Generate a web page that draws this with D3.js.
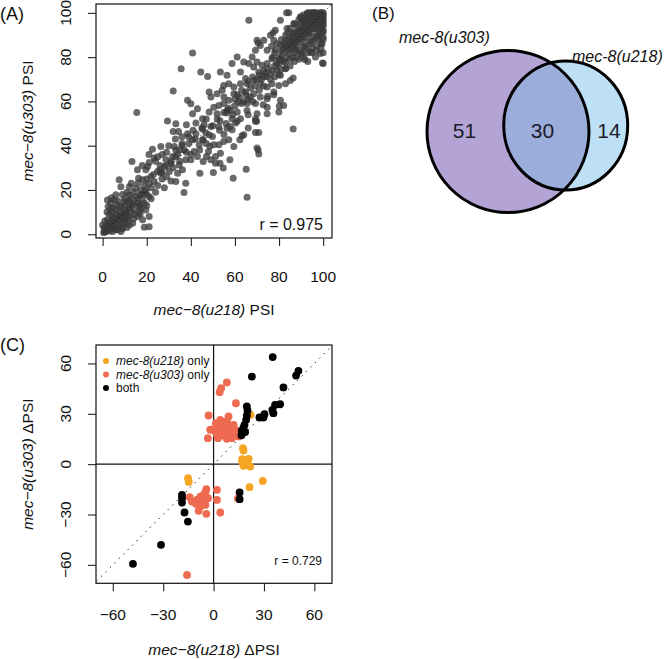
<!DOCTYPE html>
<html><head><meta charset="utf-8">
<script src="https://cdn.jsdelivr.net/npm/d3@7"></script>
<style>
body{margin:0;background:#fff}
svg{display:block}
text{font-family:"Liberation Sans",Arial,Helvetica,sans-serif;fill:#111}
</style>
</head><body>
<svg id="chart" width="665" height="659"></svg>
<script>
// ---------- DATA ----------
// Panel A: PSI of mec-8(u218) (x) vs mec-8(u303) (y)
const psiPairs = [
[0.7,2.7],[1.5,1.2],[4.5,1.2],[8.3,1.2],[0,4.2],[3,3.4],[6,3.4],[9,3.4],[12.1,4.2],[13.6,5],[2.2,6.5],[5.3,5.7],[8.3,6.5],[11.3,7.2],[4.5,8],[7.5,8.7],[10.6,9.5],[3.8,11.7],[6,11],[9,11.7],[6.8,13.2],[2.2,15.5],[5.3,15.5],[3.8,14],[9.8,14.7],[6,17.8],[12.1,11.7],[14.3,11],[15.8,8],[18.1,6.5],[21.1,8],[21.1,3.4],[18.9,3.1],[16.6,12.5],[16.6,10.2],[19.6,11],[13.6,13.2],[11.3,14.7],[12.1,17.8],[15.1,17],[18.1,15.5],[21.1,17],[15.1,20.8],[17.3,20],[19.6,20],[12.1,21.5],[8.3,21.5],[7.5,24.6],
[1,1],[2,2.2],[3,1.5],[2,4],[4,3],[5,2.5],[6,5],[7,4],[5,7],[7,6.5],[8,8],[9,7],[10,6],[10,10],[11,9],[12,8],[13,10],[8,10],[6,9],[4,6],[3,9],[9,5],[11,3],[12,12],[14,14],[13,16],[16,14],[10,13],[7,15],[1,3],[2,10],[3,5],[1,6],[6,2],[9,2.5],[11,5.5],[14,7],[17,9],[16,16],[17,13],[19,14],[20,18],[22,16],[18,18],[14,19],[10,16],[11,19],[13,23],[16,23],[9,18],[5,12],[0.5,0.8],[3,2.5],[7,2],[5,4],[4,10],[12,15],[8,12.5],[6.5,7.5],[9.5,8.5],[2.5,12.5],[4,16.5],[14.5,9],[17.5,11.5],[20,13],
[26.4,39.6],[22.6,38.4],[23.4,34.4],[21.1,32.4],[20.4,30.6],[32.5,39.6],[31.7,35.1],[28.7,33.6],[28,30.6],[26.4,27.6],[31,32.1],[30.2,28.3],[34,27.6],[36.2,29.1],[34.7,31.3],[37.7,33.6],[37.7,23],[36.9,18.9],[33.2,23.8],[24.9,28.3],[23.4,23.8],[21.9,26.1],[19.6,29.1],[18.1,24.6],[15.8,29.1],[16.3,25.3],[13.3,32.8],
[25,22],[27,25],[29,26],[24,19],[22,21],[26,31],[29,37],[33,35],[35,38],[30,40],[27,36],[24,33],[19,22],[20,25],[28,21],[31,24],[32,30],[35,33],[38,37],[36,41],[33,43],[25,35],[21,36],[18,31],[27,28],
[29.4,51.2],[33.2,49.9],[38,49.4],[34.4,46.4],[32,46.4],[38.5,45.4],[42.3,45.4],[45.3,47.5],[45.3,42.7],[48.3,44.9],[48,37.4],[49.1,33.6],[43.8,40.4],[40.8,42.7],[37,38.1],[33.2,38.1],[41.5,37.4],[43,35.1],[45.6,32.8],[40,33.6],[42.3,50.2],[46.8,45.7],[49.1,48.7],[46,49.4],[44.1,27.6],[47.1,35.1],[49.8,44.2],[48.6,39.7],[45.6,42.7],[39,41],[36,44],[41,47],[44,38],[47,41],[40,36],
[40.8,81.9],[35.6,74.8],[44.5,73.3],[47.6,71.3],[32,64.7],[48.3,64.2],[49.1,62],[38.5,60.5],[40,58.9],[43,56.7],[15.5,55],[40.8,54.4],[48.3,55.2],[45.3,52.2],
[69.3,51],[69.3,46],[70.8,46],[63.2,44.5],[64,44.9],[59.5,39.6],[57.2,42.7],[54.9,41.9],[52.7,40.4],[53.4,36.6],[51.2,35.1],[51.2,32.1],[50.4,40.4],[56.4,47.9],[58.7,47.2],[61,51],[52.7,48.7],[70,38.9],[70.5,38.1],[70.8,36.2],[65.1,29.4],[59.2,25.3],[65.5,16.7],[86.4,47.5],[62.2,42.7],[57.7,33.6],[50.2,27.9],[54.7,29.9],[57.7,48.7],[53.2,32.1],[60.3,50.2],[55,45],[66,48],
[66.3,96.7],[84.4,100],[80.6,96.7],[78.3,92.1],[83.6,92.9],[86.7,95.2],[89.7,98.2],[92.7,99.7],[95.7,100],[98.7,100],[100,98.2],[97.2,97.4],[94.2,95.9],[91.2,93.6],[88.2,91.4],[85.9,89.1],[82.9,87.6],[80.6,85.3],[83.6,84.6],[87.4,86.1],[90.4,88.4],[93.4,90.6],[96.5,92.9],[98.7,94.4],[100,91.4],[97.2,89.1],[95,86.9],[99.5,86.1],[98.7,81.6],[94.2,82.3],[96.5,80.1],[100,77.1],[91.9,84.6],[90.4,81.6],[87.4,83.1],[84.4,81.6],[81.4,81.6],[78.3,83.1],[74.6,83.1],[71.5,85.3],[70,87.6],[73.1,87.6],[77.6,87.6],[76.1,89.9],[79.9,78.6],[82.9,77.8],[76.8,79.3],[74.6,77.1],[72.3,76.3],[70,77.8],[68.5,75.5],[73.1,74],[70.8,73.3],[76.1,72.5],[79.1,74],[82.9,74.8],[80.6,71.8],[85.1,69.5],[82.9,68],[79.9,67.2],[76.8,68],[77.6,64.2],[74.6,66.5],[71.5,68],[68.5,69.5],[65.5,68],[64.8,70.3],[62.5,73.3],[66.3,77.1],[64,77.8],[67.8,80.1],[69.3,83.1],[61,80.1],[58.7,77.1],[62.5,68],[59.5,66.5],[57.2,68],[54.9,67.2],[53.4,73.3],[56.4,71.8],[54.2,65],[51.9,63.5],[59.5,63.5],[64.8,64.2],[68.5,63.5],[71.5,62],[74.6,61.2],[80.6,60.5],[82.1,58.2],[74.6,57.4],[69.3,59],[65.5,59],[61.7,59.7],[57.2,60.5],[54.9,59],[52.7,58.2],[56.4,55.9],[61,55.2],[65.5,55.9],[70,54.4],[74.6,54.4],[79.9,55.2],[51.9,54.4],[58.7,52.2],[62.5,52.2],[69.3,52.2],[50.4,57.4],
[99.7,77.4],[91.7,78.9],[86.4,70.6],[80.7,74.4],[74.3,71.3],[72.8,58.5],[74.8,62.3],[77.6,63],[80.1,57.8],[69.8,51],[66,54],[56.2,54.8],[53.2,51.3],[70.5,86.4],[76.6,84.9],[77.3,91],[83.4,100],
[88,90],[90,92],[92,94],[93,96],[94,97],[95,98],[96,99],[97,100],[98,99],[99,100],[100,100],[99,98],[97,97],[96,96],[95,95],[94,93],[93,92],[91,90],[89,88],[87,87],[86,86],[85,84],[88,85],[90,87],[92,89],[94,91],[96,93],[98,95],[100,97],[100,95],[99,93],[97,91],[95,89],[93,87],[91,85],[89,83],[87,82],[86,80],[84,83],[84,88],[86,91],[88,94],[90,96],[92,98],[94,100],[91,99],[89,97],[87,95],[85,93],[83,90],[82,86],[81,83],[80,80],[83,80],[98,88],[99,84],[100,82],[97,85],[95,84],[93,82],[100,89],[100,92],[99,96],[98,98],[100,99],[97,99],[95,100],[93,100],[96,97],[94,95],[92,96],[90,94],[91,96],[89,92],[87,91],[86,89],[84,86],[82,84],[81,88],[79,86],[78,82],[77,80],[80,77],[82,78],[85,79],[88,80],[90,82],[92,84],[94,86],[96,88],[98,90],[99,91],[100,94],[98,93],[99,97],[97,96],[96,98],[95,97],[94,98],[93,98],[91,97],[90,98],[100,96],[99,99],[98,97],[97,98],[96,100],[99,95],[98,96],[97,94],[96,95],[95,93],[94,94],[93,94],[92,92],[91,92],[90,90],[89,90],[88,88],[87,89],[86,84],[85,87],[84,91],[83,85],[81,79],[79,77],[78,76],[77,74],[75,75],[74,73],[73,71],[72,70],[71,72],[70,70],[69,67],[68,71],[67,66],[66,69],[65,63],[63,65],[62,62],[60,61],[64,60],[67,62],[71,65],[73,67],[76,70],[78,71],[80,72],[83,75],[85,76],[87,78],[89,79],[91,80],[93,78],[95,82],[97,83],[99,86],[100,88],
[55,62],[57,57],[60,58],[52,52],[55,55],[58,56],[61,63],[63,59],[66,61],[68,60],[56,50],[59,54],[50,49],[53,47],[47,52],[45,48],[42,43],[39,44],[36,40],[34,36],[31,33],[29,31],[26,29],[23,27],[21,23],[19,19],[17,18]
];
const psiTicks = [0, 20, 40, 60, 80, 100];
const rPanelA = "0.975";

// Panel B: Venn counts
const vennSets = ["mec-8(u303)", "mec-8(u218)"];
const vennCounts = [51, 30, 14]; // u303 only, both, u218 only

// Panel C: delta PSI, [u218, u303]
const bothPairs = [
[35.2,63.8],[22.8,52.2],[50.5,55.6],[49.1,52.8],[41.6,45.7],[39.6,35.7],[36.6,35.3],[35.0,32.4],[35.6,30.4],[30.3,29.8],[29.7,27.8],[27.3,27.8],[19.8,34.4],[20.2,32.0],[19.8,29.0],[19.4,26.4],[18.4,23.4],[17.8,21.8],[16.8,19.9],[16.6,17.2],[18.8,19.1],
[-18.8,-18.3],[-18.8,-20.3],[-18.8,-22.9],[-17.3,-28.8],[-15.3,-34.2],[-31.3,-48.1],[-48.0,-59.4],[15.5,-16.9],[15.5,-20.9]
];
const u218OnlyPairs = [
[-15.2,-8.4],[-14.8,-10.6],[17.5,9.5],[17.8,8.1],[17.0,3.0],[20.9,3.2],[17.8,-1.0],[21.8,-1.4],[19.8,0.6],[21.4,-13.7],[29.3,-10.0],[22.0,29.4],[17.0,1.5],[20.5,-0.5]
];
const u303OnlyPairs = [
[7.9,48.7],[4.5,45.3],[3.6,42.9],[13.3,36.3],[-3.0,29.0],[2.6,23.4],[-2.0,20.5],[-3.4,15.5],[1.0,19.5],[4.0,20.5],[5.9,25.0],[8.9,28.4],[8.9,23.4],[10.9,21.5],[6.9,19.1],[9.9,18.5],[12.5,17.5],[14.4,19.1],[4.9,17.1],[2.6,15.5],[10.9,15.5],[7.9,15.1],[2.0,17.5],[6.5,22.4],[12.9,20.5],[4.0,26.4],[1.4,24.4],[7.9,25.4],[14.8,16.5],[11.9,23.4],[0.5,21.0],
[-15.8,-66.0],[-4.3,-14.9],[-4.9,-16.9],[-5.9,-18.3],[-7.9,-19.3],[-9.9,-21.3],[-12.9,-22.3],[-14.2,-19.7],[-10.3,-23.7],[-7.9,-25.3],[-5.9,-22.3],[-4.9,-24.3],[-8.9,-27.8],[-4.3,-29.6],[2.0,-15.3],[2.0,-21.3],[4.0,-28.8],[-3.3,-20.3],[-6.9,-20.9],[14.5,-20.5]
];
const deltaTicks = [-60, -30, 0, 30, 60];
const rPanelC = "0.729";
const legendLabels = [["mec-8(u218)", " only", "#f4a523"], ["mec-8(u303)", " only", "#ee6a50"], ["", "both", "#000000"]];

// ---------- DRAW ----------
const svg = d3.select("#chart");
const fmt = v => (v < 0 ? "\u2212" + Math.abs(v) : String(v));

function title(g, x, y, rot, italicPart, rest, size) {
  const t = g.append("text")
    .attr("transform", `translate(${x},${y})` + (rot ? " rotate(-90)" : ""))
    .attr("text-anchor", "middle").attr("dy", "0.35em").style("font-size", size + "px");
  t.append("tspan").style("font-style", "italic").text(italicPart);
  t.append("tspan").text(rest);
}

function panel(opts) {
  const g = svg.append("g");
  const {box, x, y, ticks, xLab, yLab, tickFont, xLabY, yLabX} = opts;
  const id = opts.id;
  g.append("clipPath").attr("id", id).append("rect")
    .attr("x", box.l).attr("y", box.t).attr("width", box.r - box.l).attr("height", box.b - box.t);
  const inner = g.append("g").attr("clip-path", `url(#${id})`);
  g.append("g").attr("transform", `translate(0,${box.b})`)
    .call(d3.axisBottom(x).tickValues(ticks).tickSize(8).tickSizeOuter(0).tickFormat(""))
    .call(a => a.select(".domain").remove())
    .selectAll("line").attr("stroke", "#222").attr("stroke-width", 1.1);
  g.append("g").attr("transform", `translate(${box.l},0)`)
    .call(d3.axisLeft(y).tickValues(ticks).tickSize(8).tickSizeOuter(0).tickFormat(""))
    .call(a => a.select(".domain").remove())
    .selectAll("line").attr("stroke", "#222").attr("stroke-width", 1.1);
  g.selectAll(null).data(ticks).join("text")
    .attr("x", d => x(d)).attr("y", xLabY).attr("dy", "0.35em")
    .attr("text-anchor", "middle").style("font-size", tickFont + "px").text(fmt);
  g.selectAll(null).data(ticks).join("text")
    .attr("transform", d => `translate(${yLabX},${y(d)}) rotate(-90)`).attr("dy", "0.35em")
    .attr("text-anchor", "middle").style("font-size", tickFont + "px").text(fmt);
  title(g, (box.l + box.r) / 2, opts.xTitleY, false, xLab[0], xLab[1], opts.titleFont);
  title(g, opts.yTitleX, (box.t + box.b) / 2, true, yLab[0], yLab[1], opts.titleFont);
  return {g, inner};
}

// Panel A
const boxA = {l: 96, r: 332, t: 4, b: 238};
const xA = d3.scaleLinear().domain([-3, 104]).range([boxA.l, boxA.r]);
const yA = d3.scaleLinear().domain([-1.7, 104]).range([boxA.b, boxA.t]);
const pA = panel({id: "clipA", box: boxA, x: xA, y: yA, ticks: psiTicks,
  xLab: ["mec\u22128(u218)", " PSI"], yLab: ["mec\u22128(u303)", " PSI"],
  tickFont: 15.5, xLabY: 277, yLabX: 66, xTitleY: 310, yTitleX: 28, titleFont: 15.5});
pA.inner.selectAll("circle").data(psiPairs).join("circle")
  .attr("cx", d => xA(d[0])).attr("cy", d => yA(d[1])).attr("r", 3.5)
  .attr("fill", "#3a3a3a").attr("fill-opacity", 0.76);
pA.inner.append("line").attr("x1", xA(-3)).attr("y1", yA(-3)).attr("x2", xA(104)).attr("y2", yA(104))
  .attr("stroke", "#000").attr("stroke-width", 1).attr("stroke-dasharray", "1,3");
pA.g.append("rect").attr("x", boxA.l).attr("y", boxA.t).attr("width", boxA.r - boxA.l).attr("height", boxA.b - boxA.t)
  .attr("fill", "none").attr("stroke", "#111").attr("stroke-width", 1.2);
pA.g.append("text").attr("x", 323).attr("y", 230).attr("text-anchor", "end").style("font-size", "16px").text("r = " + rPanelA);
svg.append("text").attr("x", 0).attr("y", 20).style("font-size", "18px").text("(A)");

// Panel C
const boxC = {l: 96, r: 332, t: 345, b: 583.3};
const xC = d3.scaleLinear().domain([-70, 70.5]).range([boxC.l, boxC.r]);
const yC = d3.scaleLinear().domain([-71, 71]).range([boxC.b, boxC.t]);
const pC = panel({id: "clipC", box: boxC, x: xC, y: yC, ticks: deltaTicks,
  xLab: ["mec\u22128(u218)", " \u0394PSI"], yLab: ["mec\u22128(u303)", " \u0394PSI"],
  tickFont: 15.5, xLabY: 615, yLabX: 66, xTitleY: 650, yTitleX: 28, titleFont: 15.5});
pC.inner.append("line").attr("x1", xC(-75)).attr("y1", yC(-75)).attr("x2", xC(75)).attr("y2", yC(75))
  .attr("stroke", "#000").attr("stroke-width", 1).attr("stroke-dasharray", "1.3,5");
pC.inner.append("line").attr("x1", xC(0)).attr("x2", xC(0)).attr("y1", boxC.t).attr("y2", boxC.b).attr("stroke", "#111").attr("stroke-width", 1.2);
pC.inner.append("line").attr("y1", yC(0)).attr("y2", yC(0)).attr("x1", boxC.l).attr("x2", boxC.r).attr("stroke", "#111").attr("stroke-width", 1.2);
[[u303OnlyPairs, "#ee6a50"], [u218OnlyPairs, "#f4a523"], [bothPairs, "#000000"]].forEach(([arr, col]) => {
  pC.inner.append("g").selectAll("circle").data(arr).join("circle")
    .attr("cx", d => xC(d[0])).attr("cy", d => yC(d[1])).attr("r", 3.9).attr("fill", col);
});
pC.g.append("rect").attr("x", boxC.l).attr("y", boxC.t).attr("width", boxC.r - boxC.l).attr("height", boxC.b - boxC.t)
  .attr("fill", "none").attr("stroke", "#111").attr("stroke-width", 1.2);
const leg = pC.g.append("g");
legendLabels.forEach((L, i) => {
  const yy = 361 + i * 13.5;
  leg.append("circle").attr("cx", 106).attr("cy", yy).attr("r", 3).attr("fill", L[2]);
  const t = leg.append("text").attr("x", 116).attr("y", yy).attr("dy", "0.35em").style("font-size", "12px");
  if (L[0]) t.append("tspan").style("font-style", "italic").text(L[0]);
  t.append("tspan").text(L[1]);
});
pC.g.append("text").attr("x", 322).attr("y", 565).attr("text-anchor", "end").style("font-size", "12px").text("r = " + rPanelC);
svg.append("text").attr("x", 0).attr("y", 351).style("font-size", "18px").text("(C)");

// Panel B: Venn
const gB = svg.append("g");
const big = {cx: 508, cy: 131.5, rx: 81, ry: 81};
const small = {cx: 565.7, cy: 125.5, rx: 62, ry: 64.5};
gB.append("clipPath").attr("id", "clipBig").append("ellipse")
  .attr("cx", big.cx).attr("cy", big.cy).attr("rx", big.rx).attr("ry", big.ry);
gB.append("ellipse").attr("cx", big.cx).attr("cy", big.cy).attr("rx", big.rx).attr("ry", big.ry).attr("fill", "#b4a4d5");
gB.append("ellipse").attr("cx", small.cx).attr("cy", small.cy).attr("rx", small.rx).attr("ry", small.ry).attr("fill", "#bde0f6");
gB.append("ellipse").attr("clip-path", "url(#clipBig)").attr("cx", small.cx).attr("cy", small.cy).attr("rx", small.rx).attr("ry", small.ry).attr("fill", "#9badda");
[big, small].forEach(c => gB.append("ellipse").attr("cx", c.cx).attr("cy", c.cy).attr("rx", c.rx).attr("ry", c.ry)
  .attr("fill", "none").attr("stroke", "#000").attr("stroke-width", 3));
const numPos = [[464.5, 138], [542.5, 138], [609, 138]];
gB.selectAll(null).data(vennCounts).join("text")
  .attr("x", (d, i) => numPos[i][0]).attr("y", (d, i) => numPos[i][1])
  .attr("text-anchor", "middle").style("font-size", "21px").style("fill", "#1b1b2a").text(d => d);
gB.append("text").attr("x", 399).attr("y", 43).style("font-size", "16px").style("font-style", "italic").text(vennSets[0]);
gB.append("text").attr("x", 572).attr("y", 62).style("font-size", "16px").style("font-style", "italic").text(vennSets[1]);
svg.append("text").attr("x", 372).attr("y", 19).style("font-size", "17px").text("(B)");
</script>
</body></html>
